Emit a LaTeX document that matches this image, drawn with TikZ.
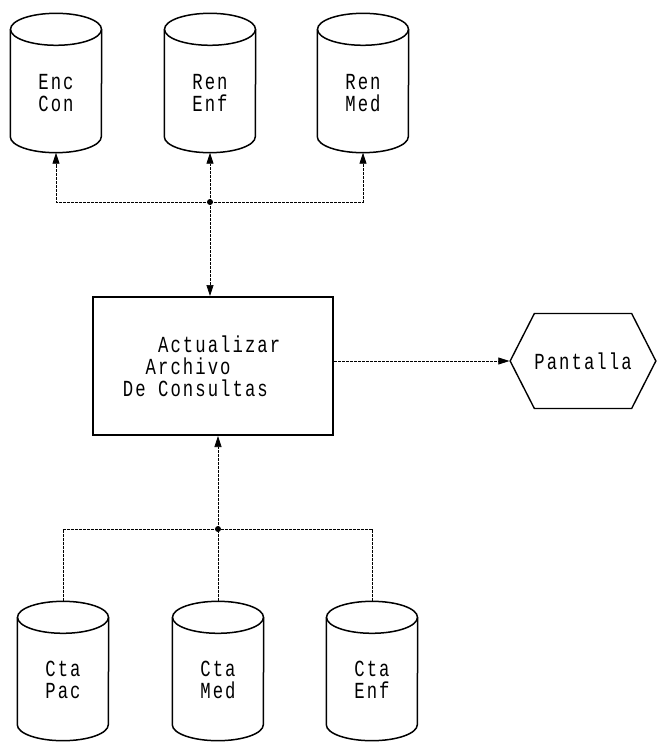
\documentclass[tikz,border=0pt]{standalone}
\usepackage{fontspec}
\newfontfamily\dotfont[LetterSpace=9,FakeStretch=0.75]{Liberation Mono}
\usetikzlibrary{positioning,arrows.meta,shapes.symbols}
\tikzset{
  >={Triangle[length=11pt,width=7pt]},
  txt/.style={font=\dotfont\fontsize{23}{22}\selectfont, align=center, inner sep=0pt},
  store/.style={rectangle, minimum width=91pt, minimum height=139pt, inner sep=0pt},
  cyl/.style={draw=black, line width=1.5pt},
  proc/.style={txt, draw=black, line width=2pt, minimum width=240pt, minimum height=138pt},
  screen/.style={txt, draw=black, line width=1.4pt, signal, signal to=east and west,
                 signal pointer angle=126, minimum width=141pt, minimum height=95pt},
  link/.style={draw=black, line width=0.7pt, dash pattern=on 3pt off 1pt},
  joint/.style={circle, fill=black, inner sep=0pt, minimum size=6pt},
}
\begin{document}
\begin{tikzpicture}[x=1pt,y=-1pt]
  \useasboundingbox (0,0) rectangle (659,743);
  % archivos de salida
  \node[store] (enc) at (56,83) {};
  \node[store] (renf) at (210,83) {};
  \node[store] (rmed) at (363,83) {};
  \node[txt] (encT) at ([yshift=-10pt]enc.center) {Enc\\Con};
  \node[txt] (renfT) at ([yshift=-10pt]renf.center) {Ren\\Enf};
  \node[txt] (rmedT) at ([yshift=-10pt]rmed.center) {Ren\\Med};
  % proceso y pantalla
  \node[proc] (act) at (213,366) {\phantom{De }Actualizar\phantom{xx}\\\phantom{De }Archivo\phantom{xxxxxxx}\\De Consultas\phantom{xxx}};
  \node[screen] (pan) at (583,361) {Pantalla};
  % archivos de entrada
  \node[store] (cpac) at (63,671) {};
  \node[store] (cmed) at (218,671) {};
  \node[store] (cenf) at (372,671) {};
  \node[txt] (cpacT) at ([yshift=-9pt]cpac.center) {Cta\\Pac};
  \node[txt] (cmedT) at ([yshift=-9pt]cmed.center) {Cta\\Med};
  \node[txt] (cenfT) at ([yshift=-9pt]cenf.center) {Cta\\Enf};
  % cilindros
  \foreach \n in {enc,renf,rmed,cpac,cmed,cenf}{
    \draw[cyl] ([yshift=-16pt]\n.north) ellipse [x radius=45.5pt, y radius=16pt];
    \draw[cyl] ([yshift=-16pt]\n.north west) -- ([yshift=16pt]\n.south west)
      arc[start angle=180, end angle=360, x radius=45.5pt, y radius=16pt]
      -- ([yshift=-16pt]\n.north east);
  }
  \coordinate (jt) at (renf.south |- 0,202);
  \coordinate (jb) at (cmed.north |- 0,529);
  \node[joint] at (jt) {};
  \node[joint] at (jb) {};
  \draw[link,->] (jt) -| (enc.south);
  \draw[link,->] (jt) -- (renf.south);
  \draw[link,->] (jt) -| (rmed.south);
  \draw[link,->] (jt) -- (jt |- act.north);
  \draw[link] (cpac.north) |- (jb);
  \draw[link] (cmed.north) -- (jb);
  \draw[link] (cenf.north) |- (jb);
  \draw[link,->] (jb) -- (jb |- act.south);
  \draw[link,->] (act.east |- pan.west) -- (pan.west);
\end{tikzpicture}
\end{document}
